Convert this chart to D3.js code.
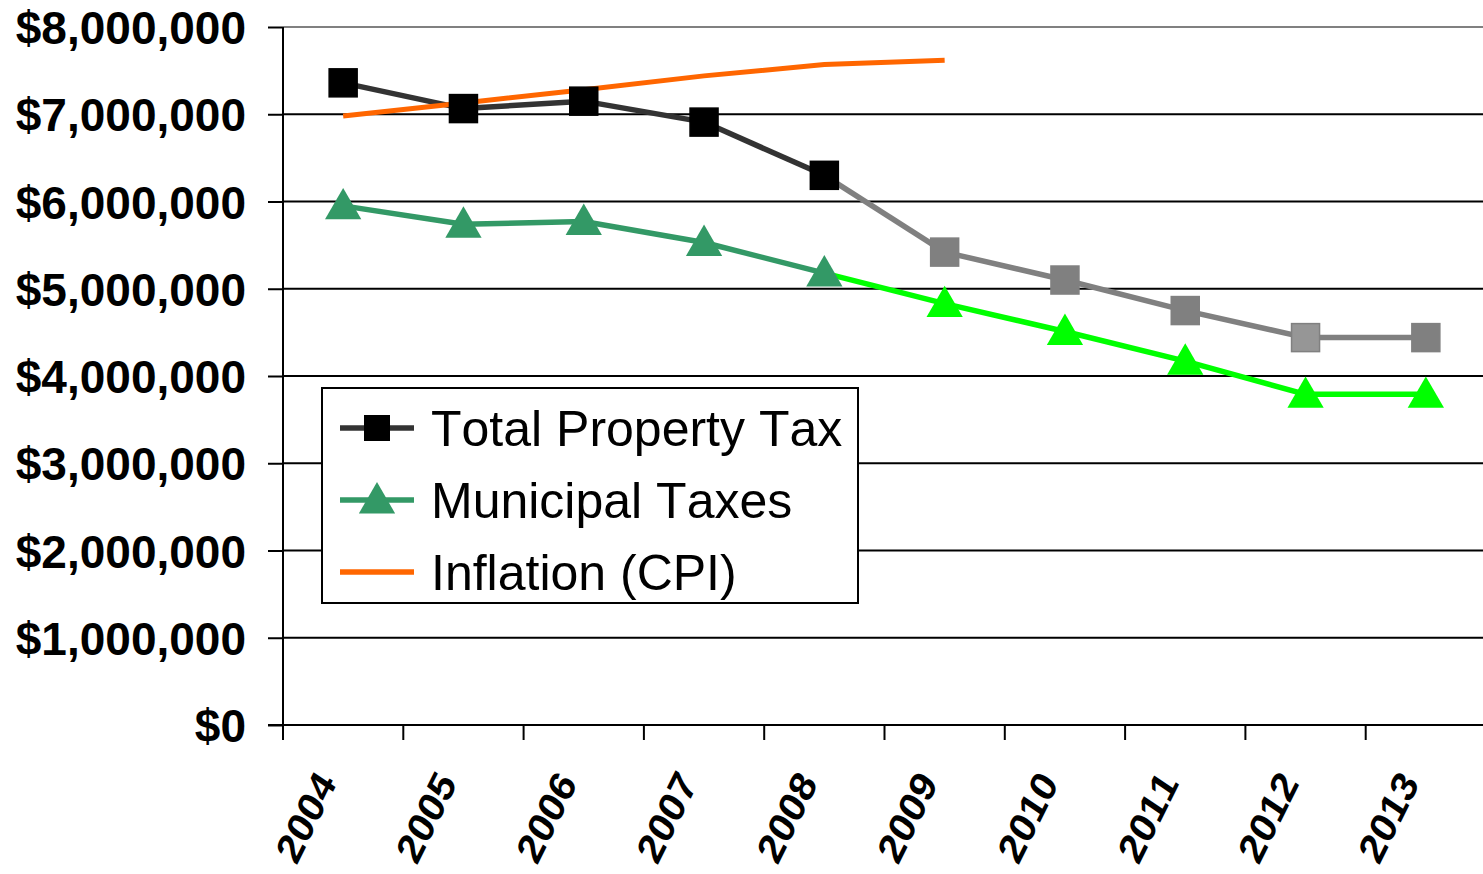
<!DOCTYPE html>
<html>
<head>
<meta charset="utf-8">
<script src="https://cdn.jsdelivr.net/npm/d3@7"></script>
<style>
  body { margin: 0; background: #fff; }
  svg { display: block; font-family: "Liberation Sans", Arial, sans-serif; font-kerning: none; }
  .yAxis text { font-weight: bold; font-size: 46px; fill: #000; }
  .xLabel { font-weight: bold; font-size: 40px; fill: #000; }
  .legend text { font-size: 50px; fill: #000; }
</style>
</head>
<body>
<script>
// data
const years = ['2004', '2005', '2006', '2007', '2008', '2009', '2010', '2011', '2012', '2013'];
const totalTax = [7360000, 7065000, 7150000, 6910000, 6300000, 5420000, 5100000, 4750000, 4440000, 4440000];
const municipalTax = [5950000, 5740000, 5770000, 5530000, 5180000, 4830000, 4510000, 4170000, 3790000, 3790000];
const cpiYears = ['2004', '2005', '2006', '2007', '2008', '2009'];
const cpiValues = [6980000, 7130000, 7280000, 7440000, 7570000, 7620000];
const yTicks = [0, 1000000, 2000000, 3000000, 4000000, 5000000, 6000000, 7000000, 8000000];
const projectedFrom = '2009';
const seriesNames = ['Total Property Tax', 'Municipal Taxes', 'Inflation (CPI)'];

var width = 1483, height = 874;
const margin = { top: 27, right: -3, bottom: 149, left: 283 };

var svg = d3.select('body').append('svg')
  .attr('width', width)
  .attr('height', height);

let x = d3.scaleBand()
  .domain(years)
  .range([margin.left, width - margin.right]);

let y = d3.scaleLinear()
  .domain([0, 8000000])
  .range([height - margin.bottom, margin.top]);

const cx = d => x(d) + x.bandwidth() / 2;
const isProj = yr => yr >= projectedFrom;

// gridlines
svg.append('g')
  .selectAll('line')
  .data(yTicks.filter(d => d > 0))
  .enter()
  .append('line')
  .attr('x1', margin.left)
  .attr('x2', width)
  .attr('y1', d => y(d))
  .attr('y2', d => y(d))
  .style('stroke', d => d == 8000000 ? '#808080' : '#000')
  .style('stroke-width', 2);

// y axis
let yAxis = d3.axisLeft(y)
  .tickValues(yTicks)
  .tickSize(15)
  .tickPadding(22)
  .tickFormat(d3.format('$,'));

svg.append('g')
  .attr('class', 'yAxis')
  .attr('transform', `translate(${margin.left}, 0)`)
  .call(yAxis)
  .call(g => g.select('.domain').remove())
  .call(g => g.selectAll('.tick line').style('stroke', '#000').style('stroke-width', 2))
  .call(g => g.selectAll('text').attr('dy', '0.36em'));

svg.append('line')
  .attr('x1', margin.left).attr('x2', margin.left)
  .attr('y1', margin.top).attr('y2', y(0) + 15)
  .style('stroke', '#000').style('stroke-width', 2);

// x axis
svg.append('line')
  .attr('x1', margin.left - 15).attr('x2', width)
  .attr('y1', y(0)).attr('y2', y(0))
  .style('stroke', '#000').style('stroke-width', 2);

svg.append('g')
  .selectAll('line')
  .data(years)
  .enter()
  .append('line')
  .attr('x1', d => x(d)).attr('x2', d => x(d))
  .attr('y1', y(0)).attr('y2', y(0) + 15)
  .style('stroke', '#000').style('stroke-width', 2);

svg.append('g')
  .selectAll('text')
  .data(years)
  .enter()
  .append('text')
  .attr('class', 'xLabel')
  .attr('transform', d => `translate(${cx(d) - 17}, ${y(0) + 51}) scale(0.92, 1.07) rotate(-60)`)
  .attr('dy', '0.35em')
  .style('text-anchor', 'end')
  .text(d => d);

// lines, one segment at a time so the colour can switch
function segments(cats, vals) {
  let segs = [];
  for (let i = 1; i < cats.length; i++) {
    segs.push({ a: [cx(cats[i - 1]), y(vals[i - 1])], b: [cx(cats[i]), y(vals[i])], yr: cats[i] });
  }
  return segs;
}

svg.append('g')
  .selectAll('line')
  .data(segments(years, totalTax))
  .enter()
  .append('line')
  .attr('x1', d => d.a[0]).attr('y1', d => d.a[1])
  .attr('x2', d => d.b[0]).attr('y2', d => d.b[1])
  .style('stroke', d => isProj(d.yr) ? '#808080' : '#333333')
  .style('stroke-width', 5.5);

svg.append('g')
  .selectAll('line')
  .data(segments(years, municipalTax))
  .enter()
  .append('line')
  .attr('x1', d => d.a[0]).attr('y1', d => d.a[1])
  .attr('x2', d => d.b[0]).attr('y2', d => d.b[1])
  .style('stroke', d => isProj(d.yr) ? '#00ff00' : '#339966')
  .style('stroke-width', 5.5);

svg.append('path')
  .datum(cpiValues)
  .attr('d', d3.line().x((d, i) => cx(cpiYears[i])).y(d => y(d)))
  .style('fill', 'none')
  .style('stroke', '#ff6600')
  .style('stroke-width', 5);

// markers
const sq = 28;
svg.append('g')
  .selectAll('rect')
  .data(years)
  .enter()
  .append('rect')
  .attr('x', d => cx(d) - sq / 2)
  .attr('y', (d, i) => y(totalTax[i]) - sq / 2)
  .attr('width', sq).attr('height', sq)
  .style('fill', d => d == '2012' ? '#969696' : isProj(d) ? '#808080' : '#000')
  .style('stroke', d => isProj(d) ? '#808080' : '#000')
  .style('stroke-width', 1.5);

const tri = d3.symbol().type(d3.symbolTriangle).size(570);
svg.append('g')
  .selectAll('path')
  .data(years)
  .enter()
  .append('path')
  .attr('d', tri)
  .attr('transform', (d, i) => `translate(${cx(d)}, ${y(municipalTax[i]) + 3})`)
  .style('fill', d => isProj(d) ? '#00ff00' : '#339966');

// legend
let legend = svg.append('g').attr('class', 'legend');
legend.append('rect')
  .attr('x', 322).attr('y', 388)
  .attr('width', 536).attr('height', 215)
  .style('fill', '#fff')
  .style('stroke', '#000')
  .style('stroke-width', 2);

let items = legend.selectAll('g.item')
  .data(seriesNames)
  .enter()
  .append('g')
  .attr('class', 'item')
  .attr('transform', (d, i) => `translate(340, ${428 + i * 72})`);

items.append('line')
  .attr('x1', 0).attr('x2', 74)
  .style('stroke', (d, i) => ['#333333', '#339966', '#ff6600'][i])
  .style('stroke-width', 5.5);

items.filter((d, i) => i == 0).append('rect')
  .attr('x', 37 - 13).attr('y', -13)
  .attr('width', 26).attr('height', 26)
  .style('fill', '#000');

items.filter((d, i) => i == 1).append('path')
  .attr('d', tri)
  .attr('transform', 'translate(37, 3)')
  .style('fill', '#339966');

items.append('text')
  .attr('x', 91)
  .attr('dy', '0.36em')
  .text(d => d);
</script>
</body>
</html>
